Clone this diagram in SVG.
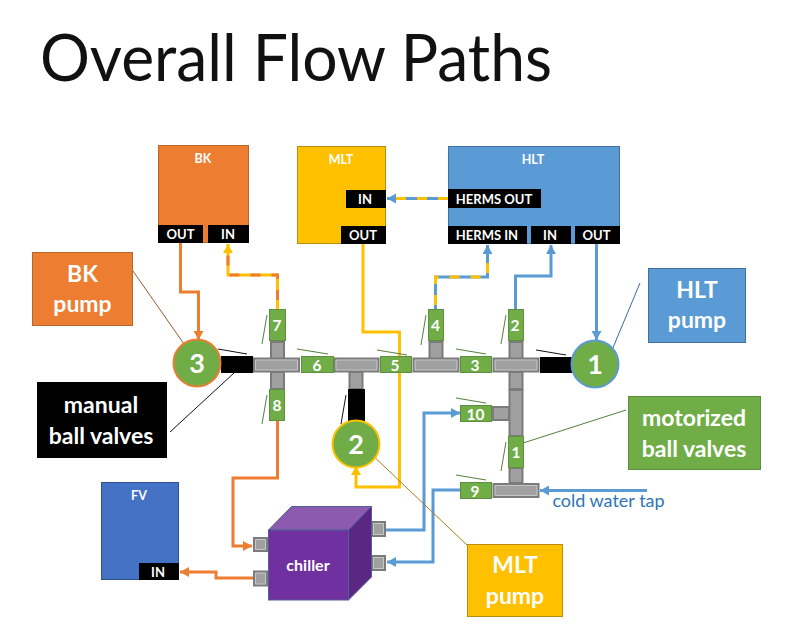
<svg xmlns="http://www.w3.org/2000/svg" width="800" height="643" viewBox="0 0 800 643">
<style>
text{font-family:"Lato","Open Sans","Liberation Sans",sans-serif;text-anchor:middle;fill:#fff}
.title{font-size:65px;font-weight:400;fill:#111;text-anchor:start}
.tank{font-size:12.5px;font-weight:700}
.port{font-size:13px;font-weight:700}
.num{font-size:15.5px;font-weight:700}
.pumpnum{font-size:27px;font-weight:700}
.callout{font-size:23px;font-weight:700}
.blk{fill:#000}
.mv{fill:#70ad47;stroke:#5f8f3e;stroke-width:1}
.pipe{fill:#a0a0a0;stroke:#7b7b7b;stroke-width:2}
.inner{fill:none;stroke:#cfcfcf;stroke-width:.8}
.flow{fill:none;stroke-width:3}
.o{stroke:#ed7d31}.y{stroke:#ffc000}.b{stroke:#5b9bd5}
.dash{fill:none;stroke-width:3;stroke-dasharray:10 11}
.lead{fill:none;stroke-width:1}
</style>
<defs>
<marker id="ao" markerUnits="userSpaceOnUse" markerWidth="11" markerHeight="11" refX="9" refY="5" orient="auto"><path d="M0 0L9 5L0 10Z" fill="#ed7d31"/></marker>
<marker id="ay" markerUnits="userSpaceOnUse" markerWidth="11" markerHeight="11" refX="9" refY="5" orient="auto"><path d="M0 0L9 5L0 10Z" fill="#ffc000"/></marker>
<marker id="ab" markerUnits="userSpaceOnUse" markerWidth="11" markerHeight="11" refX="9" refY="5" orient="auto"><path d="M0 0L9 5L0 10Z" fill="#5b9bd5"/></marker>
</defs>
<rect width="800" height="643" fill="#fff"/>
<text class="title" x="40" y="81" textLength="512" lengthAdjust="spacingAndGlyphs">Overall Flow Paths</text>

<g id="pipes">
<rect class="pipe" x="271" y="342" width="13" height="17"/>
<rect class="pipe" x="271" y="372" width="13" height="17"/>
<rect class="pipe" x="349.500" y="372" width="13" height="17"/>
<rect class="pipe" x="429.500" y="342" width="13" height="17"/>
<rect class="pipe" x="509.500" y="342" width="13" height="17"/>
<rect class="pipe" x="509.500" y="372" width="13" height="17"/>
<rect class="pipe" x="509.500" y="390" width="13" height="46"/>
<rect class="pipe" x="493" y="407" width="16" height="13"/>
<rect class="pipe" x="509.500" y="468" width="13" height="15"/>
<rect class="pipe" x="254" y="358.500" width="45" height="13"/>
<rect class="pipe" x="334.500" y="358.500" width="44" height="13"/>
<rect class="pipe" x="413.500" y="358.500" width="45" height="13"/>
<rect class="pipe" x="493.500" y="358.500" width="45" height="13"/>
<rect class="pipe" x="493.500" y="484" width="45" height="13"/>
<path class="inner" d="M255.500 360H297.500V370H255.500ZM336 360H377V370H336ZM415 360H457V370H415ZM495 360H537V370H495ZM495 485.500H537V495.500H495Z"/>
</g>

<g id="connectors">
<path class="flow o" d="M180.500 243V292H198.500V340" marker-end="url(#ao)"/>
<path class="flow y" d="M277.500 309V275H228V244" marker-end="url(#ay)"/>
<path class="dash o" d="M277.500 300V275H228V255"/>
<path class="flow y" d="M363 244V332H399.500V487H356V466" marker-end="url(#ay)"/>
<path class="flow b" d="M448 198.500H387" marker-end="url(#ab)"/>
<path class="dash y" d="M448 198.500H395"/>
<path class="flow b" d="M487.500 208V226"/>
<path class="flow y" d="M487.500 208V214"/>
<path class="flow b" d="M435.500 309V277H487.500V245" marker-end="url(#ab)"/>
<path class="dash y" d="M435.500 305V277H487.500V255"/>
<path class="flow b" d="M515.500 309V276H551V245" marker-end="url(#ab)"/>
<path class="flow b" d="M596.500 244V340" marker-end="url(#ab)"/>
<path class="flow o" d="M277.500 421V478H233V546H252" marker-end="url(#ao)"/>
<path class="flow o" d="M253 578H216V572H180" marker-end="url(#ao)"/>
<path class="flow b" d="M386 530H424V413H460" marker-end="url(#ab)"/>
<path class="flow b" d="M460 490H433V562H387" marker-end="url(#ab)"/>
<path class="flow b" d="M647 490.500H540" marker-end="url(#ab)"/>
<path class="lead" stroke="#9c5a2c" d="M133 271L184 344"/>
<path class="lead" stroke="#111" d="M234 373L170 432"/>
<path class="lead" stroke="#3c6a9a" d="M640 283L612 350"/>
<path class="lead" stroke="#54803a" d="M626 410L520 444"/>
<path class="lead" stroke="#a87c1a" d="M368 451L467 545"/>
<path class="lead" stroke="#54803a" d="M267 315L262 344M297 349L328 354M377 350L407 355M426 315L421 345M456 349L486 354M506 315L501 344M456 398L486 403M506 442L501 471M456 475L486 480M267 395L262 424"/>
<path class="lead" stroke="#111" d="M218 349L247 354M536 350L566 355M346 395L341 424"/>
</g>

<g id="bk">
<rect x="158.500" y="145.500" width="90" height="97" fill="#ed7d31" stroke="#b9652c"/>
<text class="tank" x="203" y="163">BK</text>
<rect class="blk" x="158" y="225" width="45" height="18"/><text class="port" x="180.500" y="239">OUT</text>
<rect class="blk" x="208" y="225" width="41" height="18"/><text class="port" x="228" y="239">IN</text>
</g>
<g id="mlt">
<rect x="297.500" y="146.500" width="88" height="97" fill="#ffc000" stroke="#b98c14"/>
<text class="tank" x="341" y="164">MLT</text>
<rect class="blk" x="346" y="190" width="40" height="18"/><text class="port" x="365" y="204">IN</text>
<rect class="blk" x="341" y="226" width="45" height="18"/><text class="port" x="363" y="240">OUT</text>
</g>
<g id="hlt">
<rect x="448.500" y="146.500" width="171" height="97" fill="#5b9bd5" stroke="#41719c"/>
<text class="tank" x="533" y="164">HLT</text>
<rect class="blk" x="448" y="189" width="93" height="19"/><text class="port" x="494" y="204">HERMS OUT</text>
<rect class="blk" x="448" y="226" width="79" height="18"/><text class="port" x="487" y="240">HERMS IN</text>
<rect class="blk" x="531" y="226" width="40" height="18"/><text class="port" x="550" y="240">IN</text>
<rect class="blk" x="575" y="226" width="45" height="18"/><text class="port" x="596.500" y="240">OUT</text>
</g>
<g id="fv">
<rect x="101.500" y="482.500" width="77" height="97" fill="#4472c4" stroke="#2f528f"/>
<text class="tank" x="139" y="500">FV</text>
<rect class="blk" x="139" y="563" width="40" height="17"/><text class="port" x="158" y="577">IN</text>
</g>

<g id="valve-manual-3"><rect class="blk" x="221" y="356" width="32" height="17"/></g>
<g id="valve-manual-1"><rect class="blk" x="540" y="357" width="32" height="16"/></g>
<g id="valve-manual-2"><rect class="blk" x="348" y="389" width="17" height="32"/></g>

<g id="valve-1"><rect class="mv" x="508.500" y="436.500" width="15" height="31"/><text class="num" x="516" y="458">1</text></g>
<g id="valve-2"><rect class="mv" x="508.500" y="309.500" width="15" height="31"/><text class="num" x="515" y="331">2</text></g>
<g id="valve-3"><rect class="mv" x="460.500" y="356.500" width="31" height="16"/><text class="num" x="475" y="370.500">3</text></g>
<g id="valve-4"><rect class="mv" x="428.500" y="309.500" width="15" height="31"/><text class="num" x="435.500" y="331">4</text></g>
<g id="valve-5"><rect class="mv" x="380.500" y="356.500" width="31" height="16"/><text class="num" x="395" y="370.500">5</text></g>
<g id="valve-6"><rect class="mv" x="301.500" y="356.500" width="32" height="16"/><text class="num" x="317" y="370.500">6</text></g>
<g id="valve-7"><rect class="mv" x="269.500" y="309.500" width="16" height="31"/><text class="num" x="277" y="331">7</text></g>
<g id="valve-8"><rect class="mv" x="269.500" y="389.500" width="15" height="31"/><text class="num" x="277" y="411">8</text></g>
<g id="valve-9"><rect class="mv" x="460.500" y="482.500" width="31" height="16"/><text class="num" x="475" y="496.500">9</text></g>
<g id="valve-10"><rect class="mv" x="460.500" y="405.500" width="31" height="16"/><text class="num" x="475.500" y="419.500">10</text></g>

<g id="pump-3"><circle cx="197" cy="363" r="23.500" fill="#70ad47" stroke="#ed7d31" stroke-width="2"/><text class="pumpnum" x="197" y="372.500">3</text></g>
<g id="pump-1"><circle cx="595" cy="364" r="23.500" fill="#70ad47" stroke="#5b9bd5" stroke-width="2"/><text class="pumpnum" x="595" y="373.500">1</text></g>
<g id="pump-2"><circle cx="356" cy="444" r="23.500" fill="#70ad47" stroke="#ffc000" stroke-width="2"/><text class="pumpnum" x="356" y="453.500">2</text></g>

<g id="bk-pump"><rect x="32.500" y="252.500" width="100" height="73" fill="#ed7d31" stroke="#b9652c"/><text class="callout" x="82.500" y="282">BK</text><text class="callout" x="82.500" y="312">pump</text></g>
<g id="hlt-pump"><rect x="648.500" y="268.500" width="97" height="74" fill="#5b9bd5" stroke="#41719c"/><text class="callout" x="697" y="298">HLT</text><text class="callout" x="697" y="328">pump</text></g>
<g id="manual-valves"><rect class="blk" x="37" y="382" width="130" height="76"/><text class="callout" x="101" y="413">manual</text><text class="callout" x="101" y="444">ball valves</text></g>
<g id="motorized-valves"><rect x="628.500" y="396.500" width="132" height="73" fill="#70ad47" stroke="#5f8f3e"/><text class="callout" x="694" y="426">motorized</text><text class="callout" x="694" y="457">ball valves</text></g>
<g id="mlt-pump"><rect x="467.500" y="544.500" width="95" height="72" fill="#ffc000" stroke="#b98c14"/><text class="callout" x="515" y="573">MLT</text><text class="callout" x="515" y="604">pump</text></g>

<g id="chiller">
<rect class="pipe" x="254" y="538" width="13" height="13"/>
<rect class="pipe" x="254" y="571.500" width="13" height="14"/>
<rect class="pipe" x="372" y="522" width="13" height="14"/>
<rect class="pipe" x="372" y="556" width="13" height="14"/>
<path class="inner" d="M255.500 539.500H265.500V549.500H255.500ZM255.500 573H265.500V584H255.500ZM373.500 523.500H383.500V534.500H373.500ZM373.500 557.500H383.500V568.500H373.500Z"/>
<path d="M268.500 530L291.500 506.500H371.500L348.500 530Z" fill="#8c5bb0" stroke="#4f5f9a"/>
<path d="M348.500 530L371.500 506.500V577L348.500 600Z" fill="#5a2882" stroke="#4f5f9a"/>
<rect x="268.500" y="530" width="80" height="70" fill="#7030a0" stroke="#4f5f9a"/>
<text x="308" y="571" font-size="16" font-weight="700">chiller</text>
</g>

<text x="608.500" y="507" font-size="18" style="fill:#2e75b6">cold water tap</text>
</svg>
